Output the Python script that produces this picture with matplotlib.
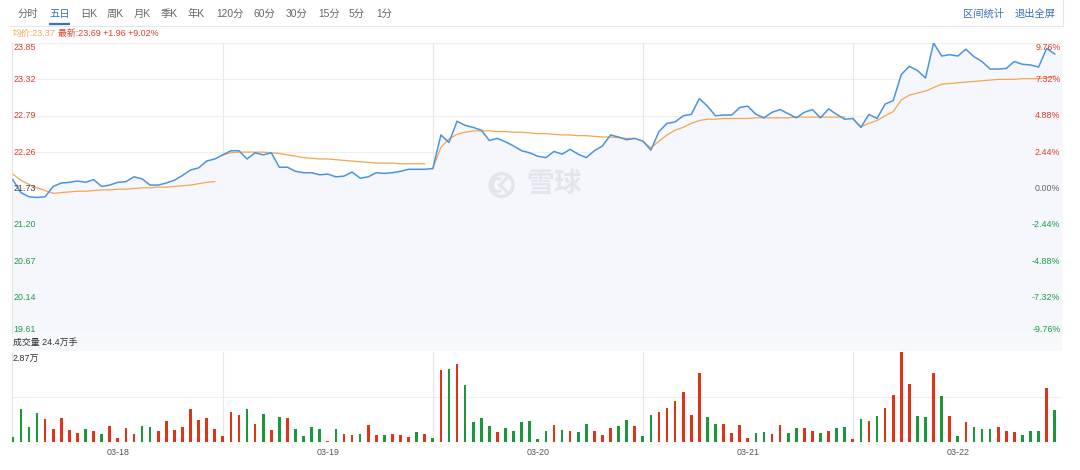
import numpy as np
import matplotlib.pyplot as plt
from matplotlib.patches import Circle, Rectangle, Arc
from matplotlib.transforms import blended_transform_factory

plt.rcParams["font.family"] = ["Liberation Sans", "Noto Sans CJK SC", "DejaVu Sans"]

# ---- data ----
days = ["03-18", "03-19", "03-20", "03-21", "03-22"]
pts_per_day = 26
prev_close = 21.73
vol_top = 28700          # 2.87万
vol_label = "成交量 24.4万手"

price_ticks = [23.85, 23.32, 22.79, 22.26, 21.73, 21.20, 20.67, 20.14, 19.61]
pct_ticks = ["9.76%", "7.32%", "4.88%", "2.44%", "0.00%",
             "-2.44%", "-4.88%", "-7.32%", "-9.76%"]

price_d1 = [21.86, 21.67, 21.61, 21.60, 21.61, 21.76, 21.81, 21.82, 21.84, 21.82,
            21.86, 21.76, 21.78, 21.82, 21.83, 21.90, 21.87, 21.78, 21.78, 21.81,
            21.85, 21.92, 22.00, 22.03, 22.13, 22.16]
price_d2 = [22.22, 22.28, 22.28, 22.16, 22.25, 22.22, 22.25, 22.04, 22.04, 21.98,
            21.96, 21.96, 21.93, 21.94, 21.90, 21.91, 21.97, 21.88, 21.90, 21.96,
            21.95, 21.96, 21.98, 22.01, 22.01, 22.01]
price_d3 = [22.02, 22.51, 22.40, 22.71, 22.65, 22.62, 22.58, 22.43, 22.46, 22.41,
            22.35, 22.28, 22.25, 22.20, 22.18, 22.27, 22.23, 22.30, 22.23, 22.18,
            22.28, 22.35, 22.51, 22.48, 22.44, 22.46]
price_d4 = [22.42, 22.29, 22.56, 22.68, 22.70, 22.79, 22.81, 23.04, 22.93, 22.79,
            22.80, 22.80, 22.91, 22.93, 22.81, 22.76, 22.84, 22.88, 22.82, 22.76,
            22.84, 22.88, 22.76, 22.89, 22.81, 22.74]
price_d5 = [22.75, 22.62, 22.81, 22.75, 22.96, 23.01, 23.39, 23.51, 23.45, 23.34,
            23.85, 23.66, 23.68, 23.66, 23.76, 23.65, 23.58, 23.47, 23.47, 23.48,
            23.58, 23.54, 23.53, 23.50, 23.77, 23.69]

avg_d1 = [21.94, 21.85, 21.79, 21.74, 21.70, 21.66, 21.67, 21.68, 21.69, 21.69,
          21.70, 21.71, 21.71, 21.72, 21.72, 21.73, 21.74, 21.74, 21.75, 21.75,
          21.76, 21.77, 21.78, 21.80, 21.82, 21.83]
avg_d2 = [22.22, 22.25, 22.26, 22.26, 22.26, 22.26, 22.25, 22.24, 22.22, 22.20,
          22.18, 22.17, 22.16, 22.16, 22.15, 22.14, 22.13, 22.12, 22.11, 22.10,
          22.10, 22.10, 22.09, 22.09, 22.09, 22.09]
avg_d3 = [22.02, 22.33, 22.45, 22.52, 22.55, 22.57, 22.57, 22.57, 22.56, 22.56,
          22.55, 22.55, 22.54, 22.53, 22.53, 22.52, 22.51, 22.51, 22.50, 22.50,
          22.49, 22.48, 22.48, 22.47, 22.46, 22.46]
avg_d4 = [22.42, 22.32, 22.42, 22.51, 22.58, 22.62, 22.68, 22.72, 22.74, 22.74,
          22.75, 22.75, 22.75, 22.75, 22.76, 22.76, 22.76, 22.76, 22.76, 22.77,
          22.77, 22.77, 22.77, 22.77, 22.77, 22.77]
avg_d5 = [22.75, 22.63, 22.68, 22.72, 22.79, 22.85, 23.02, 23.09, 23.12, 23.15,
          23.20, 23.25, 23.26, 23.27, 23.28, 23.29, 23.30, 23.31, 23.32, 23.32,
          23.32, 23.33, 23.33, 23.33, 23.34, 23.37]

vol_d1 = [1480, 10390, 4660, 9120, 7310, 4130, 7530, 3820, 2760, 4130,
          3600, 2540, 5190, 1380, 4450, 2540, 5090, 4660, 3390, 6780,
          3710, 4660, 10600, 7000, 7740, 4030]
vol_d2 = [2010, 9650, 8480, 10390, 5620, 9010, 3920, 8060, 7740, 4130,
          2010, 4660, 4130, 320, 4130, 2650, 2330, 2540, 5410, 2120,
          2120, 2650, 2120, 1590, 3070, 2650]
vol_d3 = [1170, 23000, 23210, 24800, 18130, 6470, 7530, 4980, 3180, 4350,
          3390, 6250, 6780, 1060, 3390, 5410, 3710, 3390, 3180, 5720,
          3390, 2330, 4450, 5190, 7000, 5190]
vol_d4 = [2010, 8690, 9650, 10810, 13140, 15790, 8480, 22150, 8060, 5620,
          5620, 2760, 5410, 1170, 2760, 3070, 2540, 5410, 2760, 4560,
          4350, 3600, 2760, 3390, 4350, 4880]
vol_d5 = [1060, 7420, 6780, 8160, 10810, 14950, 28700, 18340, 8160, 7950,
          22150, 14630, 8160, 1800, 6250, 4880, 4030, 4130, 4880, 3390,
          3070, 2330, 3390, 3390, 17070, 10070]

# r = up bar, g = down bar
updown = ("ggggrrrrrgrgrrrrggrrrrrrrr"
          "rrrgrgrgrggggrgrrgrrgrrrgr"
          "grgrggggrggggggrgrggrrrggr"
          "ggrrrrrrggrrrrggrrggrrgrgg"
          "rgrgrrrrggrgrgrgggrrrgggrg")

tabs = ["分时", "五日", "日K", "周K", "月K", "季K", "年K",
        "120分", "60分", "30分", "15分", "5分", "1分"]
active_tab = "五日"

price = np.array(price_d1 + price_d2 + price_d3 + price_d4 + price_d5)
avg = np.array(avg_d1 + avg_d2 + avg_d3 + avg_d4 + avg_d5)
volume = np.array(vol_d1 + vol_d2 + vol_d3 + vol_d4 + vol_d5)

BLUE = "#4a94e0"
ORANGE = "#f4a64e"
RED = "#e23c2a"
GREEN = "#1f9b45"
BAR_RED = "#df3418"
BAR_GREEN = "#1a983b"
GRID = "#eeeeee"
LINK = "#3b70b8"

W, H = 1080, 470
fig = plt.figure(figsize=(W / 100, H / 100), dpi=100)
fig.patch.set_facecolor("white")


def frac(x0, y0, x1, y1):
    return [x0 / W, 1 - y1 / H, (x1 - x0) / W, (y1 - y0) / H]


ax = fig.add_axes(frac(12, 43, 1062, 334))
axv = fig.add_axes(frac(12, 352, 1062, 442))

n = len(price)
x = np.arange(n)
xmin, xmax = -0.1, n - 0.1

# ---- price panel ----
ax.set_xlim(xmin, xmax)
ax.set_ylim(price_ticks[-1], price_ticks[0])
for t in price_ticks:
    ax.axhline(t, color=GRID, lw=0.8, zorder=0)
for k in range(1, len(days)):
    ax.axvline(k * pts_per_day, color="#e8e8e8", lw=0.8, zorder=0)

ax.fill_between(np.append(x, xmax), np.append(price, price[-1]),
                price_ticks[-1], color="#f5f7fc", lw=0, zorder=1)
ax.plot(x, price, color=BLUE, lw=1.1, zorder=3)
for k in range(len(days)):
    s = k * pts_per_day
    ax.plot(x[s:s + pts_per_day], avg[s:s + pts_per_day],
            color=ORANGE, lw=0.9, zorder=2)

for side in ["top", "right", "bottom"]:
    ax.spines[side].set_visible(False)
ax.spines["left"].set_color("#e4e4e4")
ax.set_xticks([])
ax.set_yticks([])

trans = blended_transform_factory(ax.transAxes, ax.transData)
last = len(price_ticks) - 1
for j, (t, pct) in enumerate(zip(price_ticks, pct_ticks)):
    va = "top" if j == 0 else ("bottom" if j == last else "center")
    if t > prev_close:
        c = RED
    elif t < prev_close:
        c = GREEN
    else:
        c = "#444444"
    ax.text(1.5 / 1050, t, f"{t:.2f}", transform=trans, ha="left", va=va,
            fontsize=6.4, color=c, zorder=5)
    ax.text(1 - 1.5 / 1050, t, pct, transform=trans, ha="right", va=va,
            fontsize=6.4, color=c if t != prev_close else "#666666", zorder=5)

# ---- volume panel ----
axv.set_xlim(xmin, xmax)
axv.set_ylim(0, vol_top)
axv.axhline(vol_top / 2, color=GRID, lw=0.8, zorder=0)
for k in range(1, len(days)):
    axv.axvline(k * pts_per_day, color="#e8e8e8", lw=0.8, zorder=0)
bar_colors = [BAR_RED if c == "r" else BAR_GREEN for c in updown]
axv.bar(x, volume, width=0.34, color=bar_colors, lw=0, zorder=3)
for side in ["top", "right", "bottom"]:
    axv.spines[side].set_visible(False)
axv.spines["left"].set_color("#e4e4e4")
axv.set_yticks([])
axv.set_xticks([k * pts_per_day + pts_per_day // 2 for k in range(len(days))])
axv.set_xticklabels(days)
axv.tick_params(axis="x", length=0, pad=4, labelsize=6.4, labelcolor="#555555")

# ---- overlay: toolbar, header, watermark ----
ov = fig.add_axes([0, 0, 1, 1])
ov.set_xlim(0, W)
ov.set_ylim(H, 0)
ov.axis("off")

ov.plot([8, 1063], [25.5, 25.5], color="#e6e6e6", lw=0.8)
ov.plot([1063, 1063], [0, 25.5], color="#e6e6e6", lw=0.8)

tab_x = [18, 49, 80, 107, 134, 161, 188, 216, 253, 286, 318, 349, 376]
for name, tx in zip(tabs, tab_x):
    ov.text(tx, 14, name, fontsize=7.4, va="center", ha="left",
            color=LINK if name == active_tab else "#666666")
ax0 = tab_x[tabs.index(active_tab)]
ov.plot([ax0, ax0 + 21], [24.3, 24.3], color=LINK, lw=1.6, solid_capstyle="butt")
ov.text(963, 14, "区间统计", fontsize=7.4, va="center", ha="left", color=LINK)
ov.text(1015, 14, "退出全屏", fontsize=7.4, va="center", ha="left", color=LINK)

chg = price[-1] - prev_close
ov.text(13, 33.5, f"均价:{avg[-1]:.2f}", fontsize=6.4, va="center", ha="left",
        color=ORANGE)
ov.text(58, 33.5, f"最新:{price[-1]:.2f} +{chg:.2f} +{chg / prev_close * 100:.2f}%",
        fontsize=6.4, va="center", ha="left", color=RED)

ov.add_patch(Rectangle((12, 334.5), 1050, 16.5, color="#f7f8fa", lw=0, zorder=0))
ov.text(13, 342.5, vol_label, fontsize=6.4, va="center", ha="left", color="#333333")
ov.text(13, 358.5, f"{vol_top / 1e4:.2f}万", fontsize=6.4, va="center", ha="left",
        color="#333333")

# watermark logo
wm = "#e2e5ec"
ov.add_patch(Circle((501.5, 185), 11.5, fill=False, ec=wm, lw=2.4, zorder=1))
ov.add_patch(Arc((498, 185), 11, 13, theta1=60, theta2=300, ec=wm, lw=2.2, zorder=1))
ov.plot([500, 507], [185, 178], color=wm, lw=2.2)
ov.plot([500, 507], [185, 192], color=wm, lw=2.2)
ov.text(526, 185.5, "雪球", fontsize=20, va="center", ha="left", color=wm,
        fontweight="bold", zorder=1)

fig.savefig("out.png", dpi=100, facecolor="white")
